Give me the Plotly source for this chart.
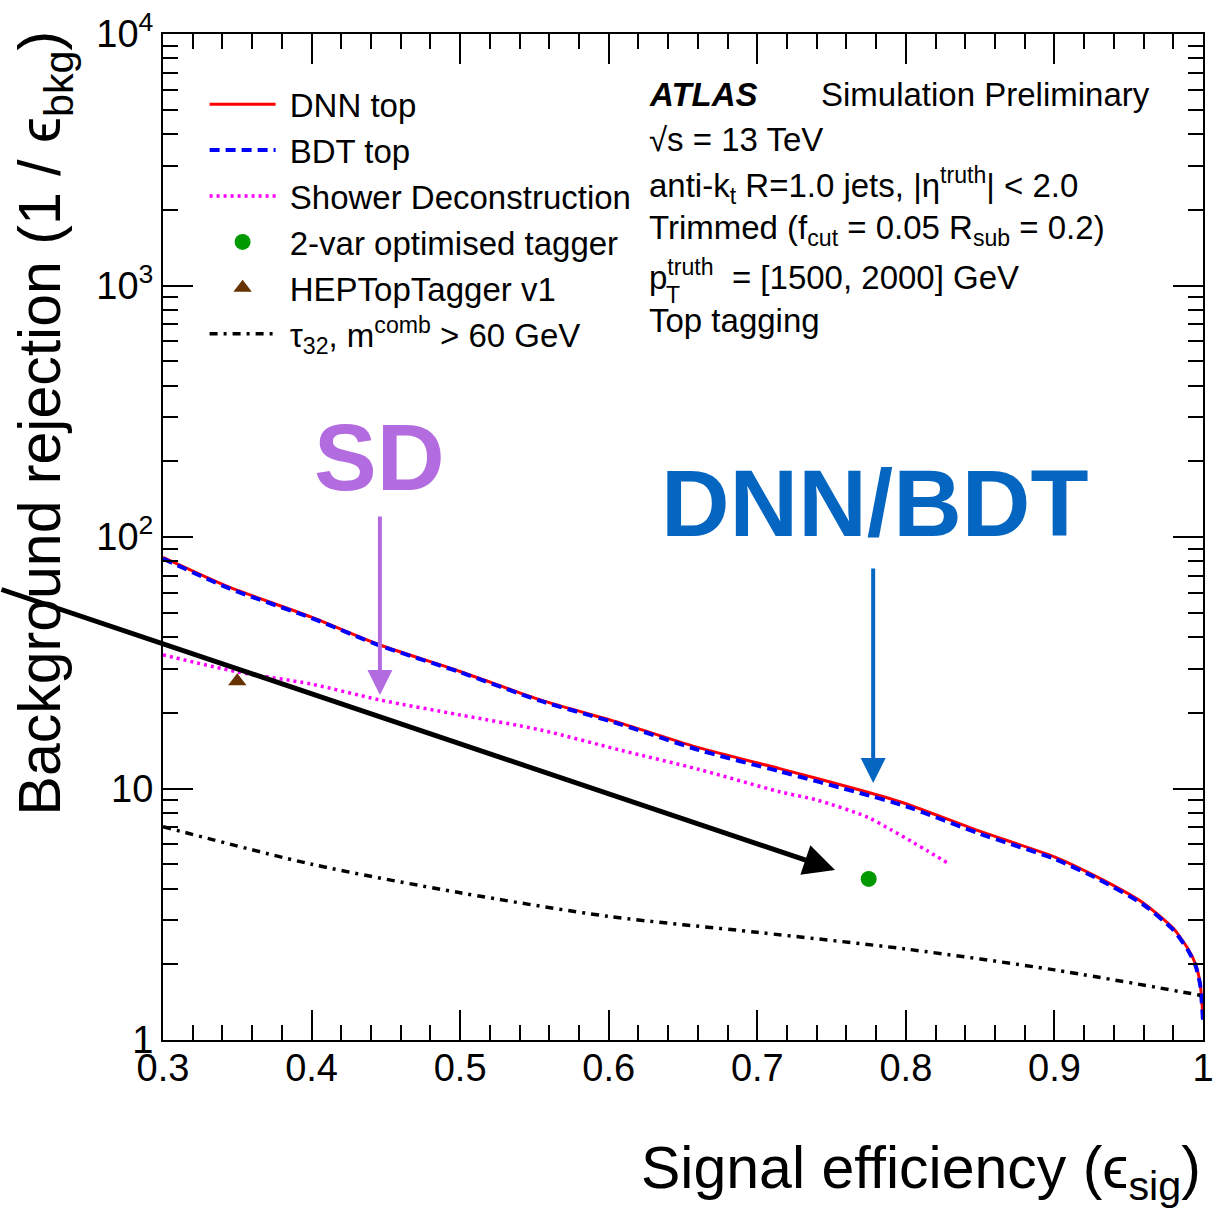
import plotly.graph_objects as go

# ---------------- data ----------------
dnn_eff = [0.30, 0.345, 0.40, 0.446, 0.50, 0.554, 0.608, 0.661, 0.715, 0.769, 0.80, 0.85,
           0.90, 0.93, 0.96, 0.98, 0.99, 0.995, 0.998, 1.0]
dnn_rej = [83, 63, 48, 37.2, 29.2, 22.5, 18.2, 14.5, 12.0, 9.86, 8.7, 6.75,
           5.35, 4.41, 3.5, 2.78, 2.3, 2.0, 1.69, 1.23]

bdt_eff = [0.30, 0.345, 0.40, 0.446, 0.50, 0.554, 0.608, 0.661, 0.715, 0.769, 0.80, 0.85,
           0.90, 0.93, 0.96, 0.98, 0.99, 0.995, 0.998, 1.0]
bdt_rej = [82, 62.3, 47.6, 37.0, 29.0, 22.3, 18.0, 14.2, 11.7, 9.6, 8.5, 6.6,
           5.25, 4.35, 3.45, 2.74, 2.27, 1.97, 1.67, 1.2]

sd_eff = [0.30, 0.35, 0.40, 0.446, 0.50, 0.554, 0.608, 0.661, 0.715, 0.74, 0.774, 0.79,
          0.805, 0.815, 0.828]
sd_rej = [34, 29.1, 26, 22.5, 19.6, 17.1, 14.2, 11.9, 9.71, 9.0, 7.7, 6.85,
          6.1, 5.63, 5.06]

tau_eff = [0.30, 0.40, 0.50, 0.60, 0.70, 0.80, 0.90, 1.00]
tau_rej = [7.05, 5.0, 3.85, 3.1, 2.68, 2.3, 1.9, 1.5]

twovar_eff = [0.775]
twovar_rej = [4.37]

htt_eff = [0.35]
htt_rej = [26.7]

y_tickvals = [1, 10, 100, 1000, 10000]
y_ticktext = ["1", "10", "10<sup>2</sup>", "10<sup>3</sup>", "10<sup>4</sup>"]
x_tickvals = [0.3, 0.4, 0.5, 0.6, 0.7, 0.8, 0.9, 1.0]
x_ticktext = ["0.3", "0.4", "0.5", "0.6", "0.7", "0.8", "0.9", "1"]

FONT = "Liberation Sans, Arial, Helvetica, sans-serif"
SP = "\u00a0"

fig = go.Figure()
fig.add_trace(go.Scatter(x=dnn_eff, y=dnn_rej, mode="lines", name=SP + "DNN top",
                         line=dict(color="#ff0000", width=3, shape="spline", smoothing=0.6),
                         legendgroup="a"))
fig.add_trace(go.Scatter(x=bdt_eff, y=bdt_rej, mode="lines", name=SP + "BDT top",
                         line=dict(color="#0000ff", width=4, dash="10px,6px", shape="spline", smoothing=0.6),
                         legendgroup="b"))
fig.add_trace(go.Scatter(x=sd_eff, y=sd_rej, mode="lines", name=SP + "Shower Deconstruction",
                         line=dict(color="#ff00ff", width=3.5, dash="3px,4px", shape="spline", smoothing=0.8),
                         legendgroup="c"))
fig.add_trace(go.Scatter(x=twovar_eff, y=twovar_rej, mode="markers", name=SP + "2-var optimised tagger",
                         marker=dict(color="#009a00", size=16, symbol="circle"), legendgroup="d"))
fig.add_trace(go.Scatter(x=htt_eff, y=htt_rej, mode="markers", name=SP + "HEPTopTagger v1",
                         marker=dict(color="#663300", size=16, symbol="triangle-up"), legendgroup="e"))
fig.add_trace(go.Scatter(x=tau_eff, y=tau_rej, mode="lines",
                         name=SP + "τ<sub>32</sub>, m<sup>comb</sup> > 60 GeV",
                         line=dict(color="#000000", width=3.5, dash="8px,6px,3px,6px",
                                   shape="spline", smoothing=0.8),
                         legendgroup="f"))

# ---------------- axes ----------------
y_minor = [m * 10 ** d for d in range(0, 4) for m in range(2, 10)]

fig.update_xaxes(range=[0.3, 1.0], tickvals=x_tickvals, ticktext=x_ticktext,
                 ticks="inside", ticklen=30, tickwidth=2, tickcolor="black",
                 minor=dict(ticks="inside", ticklen=15, tickwidth=2, tickcolor="black", dtick=0.02, tick0=0.3),
                 showline=True, linecolor="black", linewidth=2, mirror="allticks",
                 showgrid=False, zeroline=False, ticklabelstandoff=-7,
                 tickfont=dict(family=FONT, size=38, color="black"))
fig.update_yaxes(type="log", range=[0, 4], tickvals=y_tickvals, ticktext=y_ticktext,
                 ticks="inside", ticklen=30, tickwidth=2, tickcolor="black",
                 minor=dict(ticks="inside", ticklen=15, tickwidth=2, tickcolor="black",
                            tickmode="array", tickvals=y_minor),
                 showline=True, linecolor="black", linewidth=2, mirror="allticks",
                 showgrid=False, zeroline=False,
                 tickfont=dict(family=FONT, size=38, color="black"))

annotations = []

# axis titles
annotations.append(dict(text="Signal efficiency (ϵ<sub>sig</sub>)", xref="paper", yref="paper",
                        x=1.0, y=-0.131, xanchor="right", yanchor="middle", showarrow=False,
                        font=dict(family=FONT, size=59, color="black")))
annotations.append(dict(text="Background rejection (1 / ϵ<sub>bkg</sub>)", xref="paper", yref="paper",
                        x=-0.1135, y=1.006, xanchor="center", yanchor="top", textangle=-90,
                        showarrow=False, font=dict(family=FONT, size=59, color="black")))

# ATLAS label block
info_font = dict(family=FONT, size=33, color="black")
info_lines = [
    ("<b><i>ATLAS</i></b>", 0.4654, 0.9394),
    ("Simulation Preliminary", 0.6308, 0.9394),
    ("√s = 13 TeV", 0.4654, 0.8956),
    ("anti-k<sub>t</sub> R=1.0 jets, |η<sup>truth</sup>| < 2.0", 0.4654, 0.8499),
    ("Trimmed (f<sub>cut</sub> = 0.05 R<sub>sub</sub> = 0.2)", 0.4654, 0.8052),
    ("p<sup>truth</sup>  = [1500, 2000] GeV", 0.4654, 0.7604),
    ("Top tagging", 0.4654, 0.7157),
]
for txt, xp, yp in info_lines:
    annotations.append(dict(text=txt, xref="paper", yref="paper", x=xp, y=yp,
                            xanchor="left", yanchor="middle", showarrow=False, font=info_font))
annotations.append(dict(text="T", xref="paper", yref="paper", x=0.4818, y=0.7406,
                        xanchor="left", yanchor="middle", showarrow=False,
                        font=dict(family=FONT, size=23, color="black")))

# highlight labels and arrows
SD_COL = "#b36ce0"
DNN_COL = "#0566c1"
annotations.append(dict(text="<b>SD</b>", x=0.446, y=2.318, xref="x", yref="y", showarrow=False,
                        font=dict(family=FONT, size=94, color=SD_COL)))
annotations.append(dict(text="", x=0.446, y=1.372, xref="x", yref="y", showarrow=True,
                        ax=0, ay=-180, arrowhead=2, arrowsize=1.25, arrowwidth=4, arrowcolor=SD_COL))
annotations.append(dict(text="<b>DNN/BDT</b>", x=0.779, y=2.135, xref="x", yref="y", showarrow=False,
                        font=dict(family=FONT, size=95, color=DNN_COL)))
annotations.append(dict(text="", x=0.778, y=1.022, xref="x", yref="y", showarrow=True,
                        ax=0, ay=-216, arrowhead=2, arrowsize=1.25, arrowwidth=4, arrowcolor=DNN_COL))
annotations.append(dict(text="", x=0.7523, y=0.676, xref="x", yref="y", showarrow=True,
                        ax=-850, ay=-281, arrowhead=2, arrowsize=1.25, arrowwidth=5, arrowcolor="black"))

fig.update_layout(
    width=1221, height=1213,
    margin=dict(l=163, r=18, t=34, b=173, autoexpand=False),
    paper_bgcolor="white", plot_bgcolor="white",
    font=dict(family=FONT, color="black"),
    showlegend=True,
    legend=dict(x=0.040, y=0.958, xanchor="left", yanchor="top",
                bgcolor="rgba(0,0,0,0)", borderwidth=0,
                font=dict(family=FONT, size=33, color="black"),
                itemwidth=66, tracegroupgap=0, traceorder="normal"),
    annotations=annotations,
)

fig.write_html("out.html")
